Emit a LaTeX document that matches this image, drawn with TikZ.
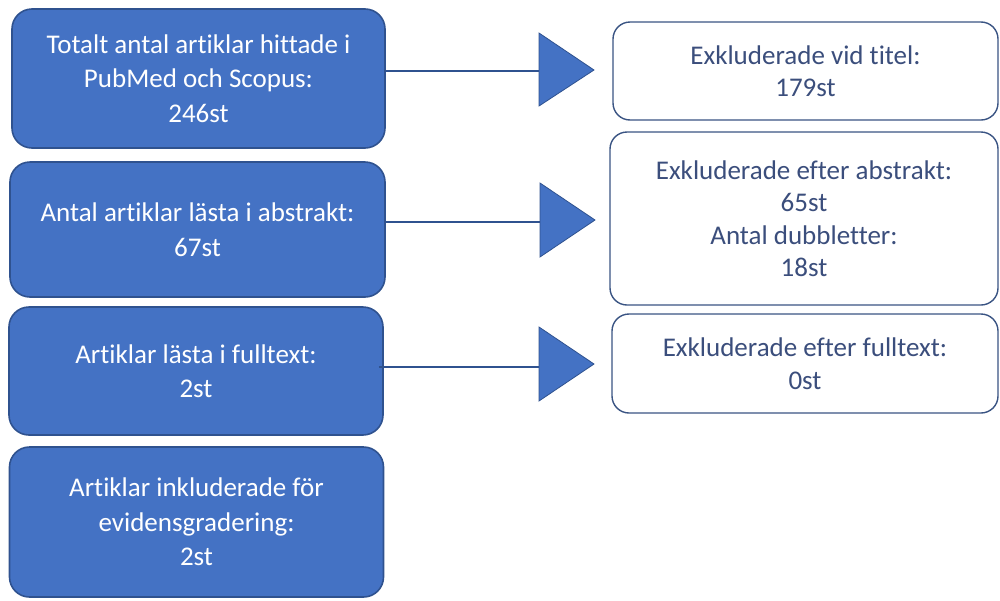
\documentclass[tikz,border=0pt]{standalone}
\usepackage{fontspec}
\setmainfont{Carlito}[Ligatures={NoCommon}]
\definecolor{bfill}{HTML}{4472C4}
\definecolor{bdraw}{HTML}{2F528F}
\definecolor{rtext}{HTML}{3B4E7C}
\definecolor{rdraw}{HTML}{3A5483}
\begin{document}
\begin{tikzpicture}[x=1pt,y=-1pt,
  lbox/.style={draw=bdraw,fill=bfill,line width=1.6pt,rounded corners=20pt,inner sep=0pt,
    text=white,align=center,font=\fontsize{27}{34.5}\selectfont},
  rbox/.style={draw=rdraw,fill=white,line width=1.4pt,rounded corners=17pt,inner sep=0pt,
    text=rtext,align=center,font=\fontsize{27}{32.5}\selectfont},
  tri/.style={draw=bdraw,fill=bfill,line width=0.8pt},
  conn/.style={draw=bdraw,line width=1.6pt}]
\useasboundingbox (0,0) rectangle (1000,600);
% left column
\node[lbox,minimum width=373pt,minimum height=139pt] (L1) at (198.5,78.5)
  {Totalt antal artiklar hittade i\\PubMed och Scopus:\\246st};
\node[lbox,minimum width=375pt,minimum height=135pt] (L2) at (197.5,229.5)
  {Antal artiklar lästa i abstrakt:\\67st};
\node[lbox,minimum width=374pt,minimum height=128pt] (L3) at (196,371)
  {Artiklar lästa i fulltext:\\2st};
\node[lbox,minimum width=374pt,minimum height=150pt] (L4) at (196.5,522)
  {Artiklar inkluderade för\\evidensgradering:\\2st};
% right column
\node[rbox,minimum width=385pt,minimum height=98pt] (R1) at (805.5,71)
  {Exkluderade vid titel:\\179st};
\node[rbox,minimum width=388pt,minimum height=173pt] (R2) at (804,218.5)
  {Exkluderade efter abstrakt:\\65st\\Antal dubbletter:\\18st};
\node[rbox,minimum width=386pt,minimum height=99pt] (R3) at (805,363.5)
  {Exkluderade efter fulltext:\\0st};
% triangles
\draw[tri] (539,33) -- (594,70) -- (539,106) -- cycle;
\coordinate (t1) at (539,71);
\draw[tri] (540,183) -- (595,220) -- (540,257) -- cycle;
\coordinate (t2) at (540,222);
\draw[tri] (539,327) -- (594,364) -- (539,401) -- cycle;
\coordinate (t3) at (539,367);
% connectors
\draw[conn] (L1.east |- t1) -- (t1);
\draw[conn] (L2.east |- t2) -- (t2);
\draw[conn] ([xshift=-5pt]L3.east |- t3) -- (t3);
\end{tikzpicture}
\end{document}
